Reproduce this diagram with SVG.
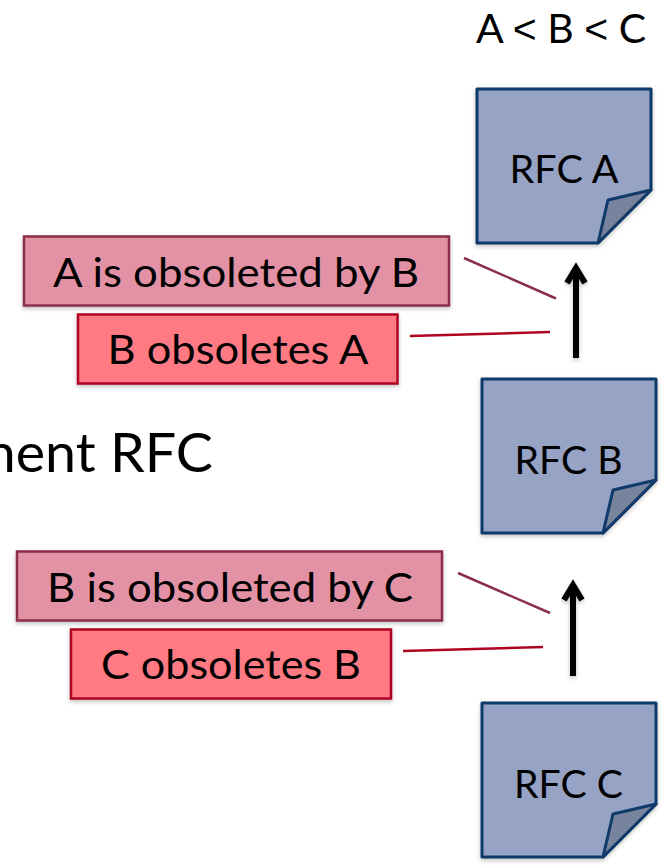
<svg xmlns="http://www.w3.org/2000/svg" width="663" height="865" viewBox="0 0 663 865">
<defs>
<filter id="sh" x="-15%" y="-15%" width="130%" height="130%"><feDropShadow dx="0" dy="2" stdDeviation="2" flood-color="#000" flood-opacity="0.25"/></filter>
<path id="note" d="M0 0H174V101L121 154H0Z"/>
<path id="fold" d="M121 154L131 111L174 101Z"/>
</defs>
<style>
text{font-family:Lato,"Open Sans",sans-serif;fill:#000;text-anchor:middle}
.t{font-size:40px}
.n{font-size:39px}
.big{font-size:55px;text-anchor:end}
.lt{font-family:"Liberation Sans",sans-serif;font-size:40px}
.note{fill:#96a3c5;stroke:#0f3a69;stroke-width:3;stroke-linejoin:round;filter:url(#sh)}
.fold{fill:#78849e;stroke:#0f3a69;stroke-width:3;stroke-linejoin:round}
.pink{fill:#e292a4;stroke:#8a2f4a;stroke-width:2.5;filter:url(#sh)}
.red{fill:#ff7a82;stroke:#ae0422;stroke-width:2.5;filter:url(#sh)}
.l1{stroke:#8a2f4a;stroke-width:2.5;fill:none}
.l2{stroke:#ae0422;stroke-width:2.5;fill:none}
.ar{stroke:#000;stroke-width:6;fill:none;stroke-linejoin:miter;filter:url(#sh)}
.bar{stroke-linecap:round}
</style>
<text class="big" x="213" y="472" textLength="243" lengthAdjust="spacingAndGlyphs">ment RFC</text>
<text x="561" y="43" font-size="40" textLength="170" lengthAdjust="spacingAndGlyphs">A <tspan class="lt">&lt;</tspan> B <tspan class="lt">&lt;</tspan> C</text>
<g id="connectors">
<path class="l1" d="M464 258L556 298.5"/>
<path class="l2" d="M410 336L550 332"/>
<path class="ar" d="M576 358V268M567 283L576 268L585 283"/>
<path class="l1" d="M458 573L550 613"/>
<path class="l2" d="M403 651L543 647"/>
<path class="ar" d="M573 676V585M564 600L573 585L582 600"/>
</g>
<g id="rfc-a" transform="translate(477 89)"><use href="#note" class="note"/><use href="#fold" class="fold"/><text class="n" x="87" y="94" textLength="109" lengthAdjust="spacingAndGlyphs">RFC A</text></g>
<g id="rfc-b" transform="translate(482 379)"><use href="#note" class="note"/><use href="#fold" class="fold"/><text class="n" x="86.500" y="95" textLength="108" lengthAdjust="spacingAndGlyphs">RFC B</text></g>
<g id="rfc-c" transform="translate(482 703)"><use href="#note" class="note"/><use href="#fold" class="fold"/><text class="n" x="86.500" y="95" textLength="109" lengthAdjust="spacingAndGlyphs">RFC C</text></g>
<g id="a-by-b"><rect class="pink" x="24" y="236.500" width="425" height="69"/><text class="t" x="236" y="287" textLength="366" lengthAdjust="spacingAndGlyphs">A is obsoleted by B</text></g>
<g id="b-obs-a"><rect class="red" x="78" y="314.500" width="319.500" height="69"/><text class="t" x="238" y="364" textLength="261" lengthAdjust="spacingAndGlyphs">B obsoletes A</text></g>
<g id="b-by-c"><rect class="pink" x="17" y="551.500" width="425" height="69"/><text class="t" x="230" y="602" textLength="366" lengthAdjust="spacingAndGlyphs">B is obsoleted by C</text></g>
<g id="c-obs-b"><rect class="red" x="71" y="629.500" width="320" height="69"/><text class="t" x="231" y="679" textLength="260" lengthAdjust="spacingAndGlyphs">C obsoletes B</text></g>
</svg>
